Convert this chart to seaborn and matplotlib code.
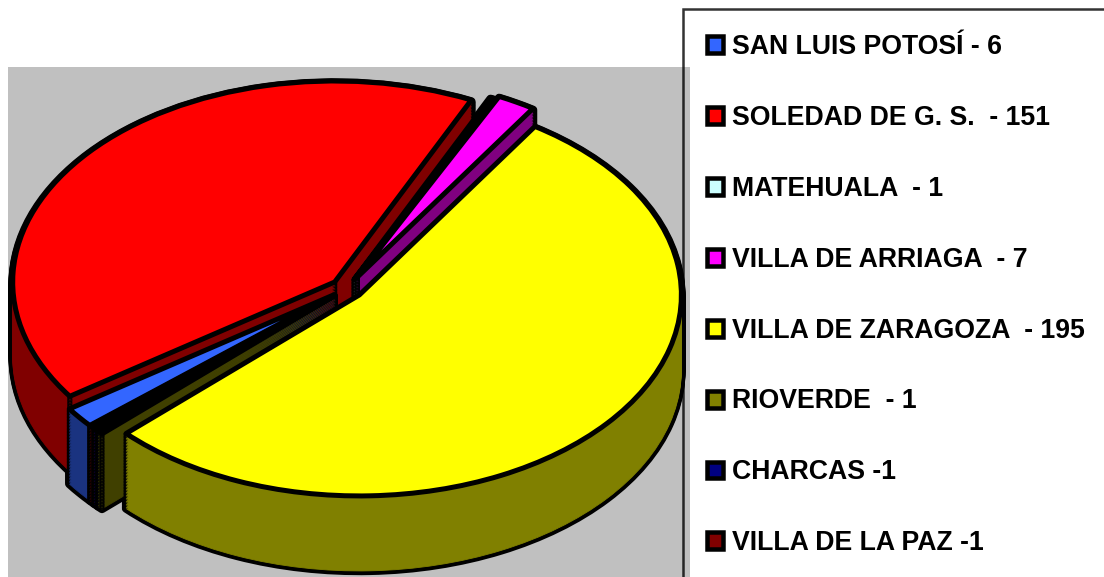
import matplotlib
matplotlib.use("Agg")
import matplotlib.pyplot as plt
from matplotlib.patches import Patch
import numpy as np
import seaborn as sns

# data
categories = ["SAN LUIS POTOSÍ - 6", "SOLEDAD DE G. S.  - 151", "MATEHUALA  - 1",
              "VILLA DE ARRIAGA  - 7", "VILLA DE ZARAGOZA  - 195", "RIOVERDE  - 1",
              "CHARCAS -1", "VILLA DE LA PAZ -1"]
values = [6, 151, 1, 7, 195, 1, 1, 1]
top_colors = ["#3366FF", "#FF0000", "#CCFFFF", "#FF00FF", "#FFFF00", "#808000", "#000080", "#800000"]

W, H = 1104, 577
sns.set_theme(style="white")
plt.rcParams["font.family"] = ["Liberation Sans", "DejaVu Sans"]

palette = sns.color_palette(top_colors)
wall_colors = [tuple(c * 0.5 for c in col) for col in palette]

fig = plt.figure(figsize=(W / 100, H / 100), dpi=100, facecolor="white")
# plot area in pixels
L, R, T, B = 8, 690, 67, 577
ax = fig.add_axes([L / W, 1 - B / H, (R - L) / W, (B - T) / H])
ax.set_facecolor("#C0C0C0")

cx, cy = 347, 288.5    # pie centre, px
rx, ry = 322, 201      # radii, px
depth, step = 75, 1.5
explode = [0.05, 0.05, 0.05, 0.066, 0.05, 0.05, 0.05, 0.05]
LW = 5 * 72 / 100      # outline width

start = 90 + 130.6
n = int(depth / step)


def layer(k, cols, props, z):
    wedges, _ = ax.pie(values, colors=cols, explode=explode, startangle=start,
                       counterclock=False, center=(0, -k * step / ry), radius=1,
                       frame=True, wedgeprops=props)
    for w in wedges:
        w.set_zorder(z)
    return wedges


# black silhouette behind the walls
for k in range(n, 0, -1):
    layer(k, wall_colors, dict(edgecolor="black", linewidth=LW * 1.7, joinstyle="round"), 1)

# walls, painted from the bottom up, then the top face
for k in range(n, -1, -1):
    z = 2 * (n - k) + 3
    if k == 0:
        layer(k, palette, dict(edgecolor="black", linewidth=LW, joinstyle="round"), z)
        continue
    wedges = layer(k, wall_colors, dict(linewidth=0.6), z)
    xs, ys = [], []
    for w, col in zip(wedges, wall_colors):
        w.set_edgecolor(col)
        c = w.center
        for th in (w.theta1, w.theta2):
            px = c[0] + w.r * np.cos(np.radians(th))
            py = c[1] + w.r * np.sin(np.radians(th))
            xs += [px, px, np.nan]
            ys += [py, py + 1.3 * step / ry, np.nan]
        xs += [c[0], c[0], np.nan]
        ys += [c[1], c[1] + 1.3 * step / ry, np.nan]
    ax.plot(xs, ys, color="black", lw=LW, solid_capstyle="butt", zorder=z + 1, snap=False)

ax.set_aspect("auto")
ax.set_xlim((L - cx) / rx, (R - cx) / rx)
ax.set_ylim((cy - B) / ry, (cy - T) / ry)
ax.set_xticks([])
ax.set_yticks([])
sns.despine(ax=ax, left=True, bottom=True)

handles = [Patch(facecolor=c, edgecolor="black", linewidth=4.5 * 72 / 100, joinstyle="round") for c in palette]
fs = 19.2
leg = ax.legend(handles, categories, loc="upper left",
                bbox_to_anchor=(682.5 / W, 1 - 9 / H), bbox_transform=fig.transFigure,
                borderaxespad=0, prop=dict(size=fs, weight="bold"),
                labelspacing=1.685, borderpad=0.93, handlelength=0.6, handleheight=0.6,
                handletextpad=0.34, fancybox=False, frameon=True,
                facecolor="none", edgecolor="black", framealpha=None, labelcolor="black")
leg.get_frame().set_linewidth(2.5 * 72 / 100)
leg.set_zorder(1000)

fig.savefig("out.png", dpi=100)
